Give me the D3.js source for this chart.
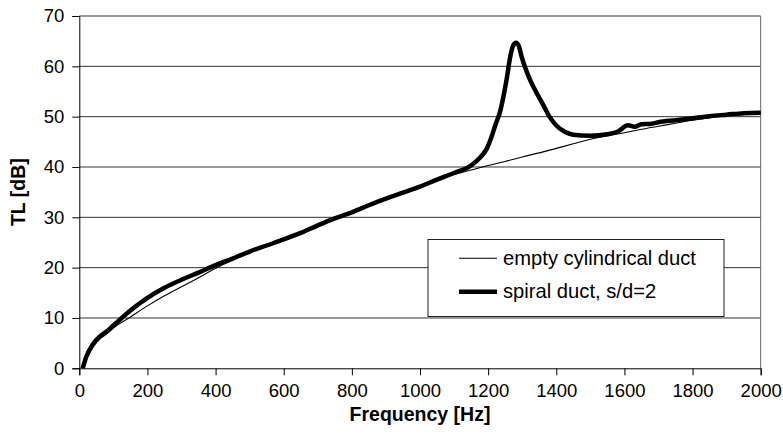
<!DOCTYPE html>
<html>
<head>
<meta charset="utf-8">
<script src="https://cdn.jsdelivr.net/npm/d3@7"></script>
<style>
html,body{margin:0;padding:0;background:#fff;}
svg{display:block;font-family:"Liberation Sans",Arial,sans-serif;}
</style>
</head>
<body>
<svg id="chart" width="783" height="438"></svg>
<script>
// Data
const emptyFreq = [10,20,40,60,80,100,150,200,250,300,350,400,450,500,550,600,650,700,750,800,850,900,950,1000,1050,1100,1150,1200,1250,1300,1350,1400,1450,1500,1550,1600,1650,1700,1750,1800,1850,1900,1950,2000];
const emptyTL   = [0,1.8,4.2,5.8,6.8,8.0,10.2,12.4,14.4,16.2,18.0,19.9,21.5,23.0,24.3,25.6,26.9,28.4,29.8,31.0,32.4,33.7,34.9,36.1,37.3,38.5,39.4,40.3,41.1,42.0,42.8,43.7,44.6,45.5,46.2,46.8,47.5,48.1,48.7,49.3,49.8,50.2,50.5,50.8];

const spiralFreq = [10,20,40,60,80,100,150,200,250,300,350,400,450,500,550,600,650,700,750,800,850,900,950,1000,1050,1100,1150,1175,1195,1210,1222,1235,1254,1266,1274,1282,1290,1298,1310,1323,1340,1362,1380,1401,1425,1450,1500,1550,1580,1610,1630,1650,1680,1700,1750,1800,1850,1900,1950,2000];
const spiralTL   = [0,2.2,4.8,6.3,7.3,8.5,11.5,14.0,16.0,17.6,19.0,20.5,21.8,23.2,24.4,25.6,26.9,28.4,29.8,31.0,32.4,33.7,34.9,36.1,37.5,38.8,40.3,41.8,43.5,46.0,48.5,51.0,57.3,62.3,64.2,64.7,64.0,62.0,59.5,57.3,55.0,52.3,50.0,48.2,47.0,46.4,46.2,46.5,47.0,48.3,48.0,48.5,48.6,48.9,49.3,49.7,50.1,50.4,50.7,50.8];

const xTicks = [0,200,400,600,800,1000,1200,1400,1600,1800,2000];
const yTicks = [0,10,20,30,40,50,60,70];
const seriesNames = ["empty cylindrical duct","spiral duct, s/d=2"];

const W = 783, H = 438;
const m = {left:79.3, right:22.3, top:16, bottom:69.7};
const svg = d3.select("#chart");
const x = d3.scaleLinear().domain([0,2000]).range([m.left, W - m.right]);
const y = d3.scaleLinear().domain([0,70]).range([H - m.bottom, m.top]);

// gridlines
svg.append("g").selectAll("line").data(yTicks.filter(d=>d>0)).join("line")
  .attr("x1", x(0)).attr("x2", x(2000))
  .attr("y1", d=>y(d)).attr("y2", d=>y(d))
  .attr("stroke", "#333").attr("stroke-width", 1);
// right border
svg.append("line").attr("x1", x(2000)).attr("x2", x(2000)).attr("y1", y(0)).attr("y2", y(70))
  .attr("stroke", "#666").attr("stroke-width", 1);

// axes
const xAxis = svg.append("g").attr("transform", `translate(0,${y(0)})`)
  .call(d3.axisBottom(x).tickValues(xTicks).tickSize(7).tickPadding(9).tickFormat(d3.format("d")));
const yAxis = svg.append("g").attr("transform", `translate(${x(0)},0)`)
  .call(d3.axisLeft(y).tickValues(yTicks).tickSize(7).tickPadding(8).tickFormat(d3.format("d")));
[xAxis,yAxis].forEach(a=>{
  a.selectAll("text").attr("font-size", 18.5).attr("fill","#000").attr("font-family","Liberation Sans, Arial, sans-serif");
  a.selectAll("line").attr("stroke","#000");
  a.select(".domain").attr("stroke","#000");
});

// lines
const line = d3.line().x(d=>x(d[0])).y(d=>y(d[1])).curve(d3.curveMonotoneX);
const spiral = spiralFreq.map((f,i)=>[f, spiralTL[i]]);
const empty = emptyFreq.map((f,i)=>[f, emptyTL[i]]);
svg.append("path").datum(spiral).attr("d", line).attr("fill","none")
  .attr("stroke","#000").attr("stroke-width",4.5).attr("stroke-linejoin","round");
svg.append("path").datum(empty).attr("d", line).attr("fill","none")
  .attr("stroke","#000").attr("stroke-width",1.1);

// axis titles
svg.append("text").attr("x", (x(0)+x(2000))/2).attr("y", 421)
  .attr("text-anchor","middle").attr("font-weight","bold").attr("font-size",19.5)
  .text("Frequency [Hz]");
svg.append("text").attr("transform", `translate(25,${(y(0)+y(70))/2}) rotate(-90)`)
  .attr("text-anchor","middle").attr("font-weight","bold").attr("font-size",19.5)
  .text("TL [dB]");

// legend
const lg = svg.append("g");
lg.append("rect").attr("x",428).attr("y",239.5).attr("width",296).attr("height",77)
  .attr("fill","#fff").attr("stroke","#222").attr("stroke-width",1);
const rows = [{y:258.3, w:1.1},{y:291.7, w:4.5}];
rows.forEach((r,i)=>{
  lg.append("line").attr("x1",459).attr("x2",497).attr("y1",r.y).attr("y2",r.y)
    .attr("stroke","#000").attr("stroke-width",r.w);
  lg.append("text").attr("x",503).attr("y",r.y).attr("dy","0.33em")
    .attr("font-size",20.2).text(seriesNames[i]);
});
</script>
</body>
</html>
